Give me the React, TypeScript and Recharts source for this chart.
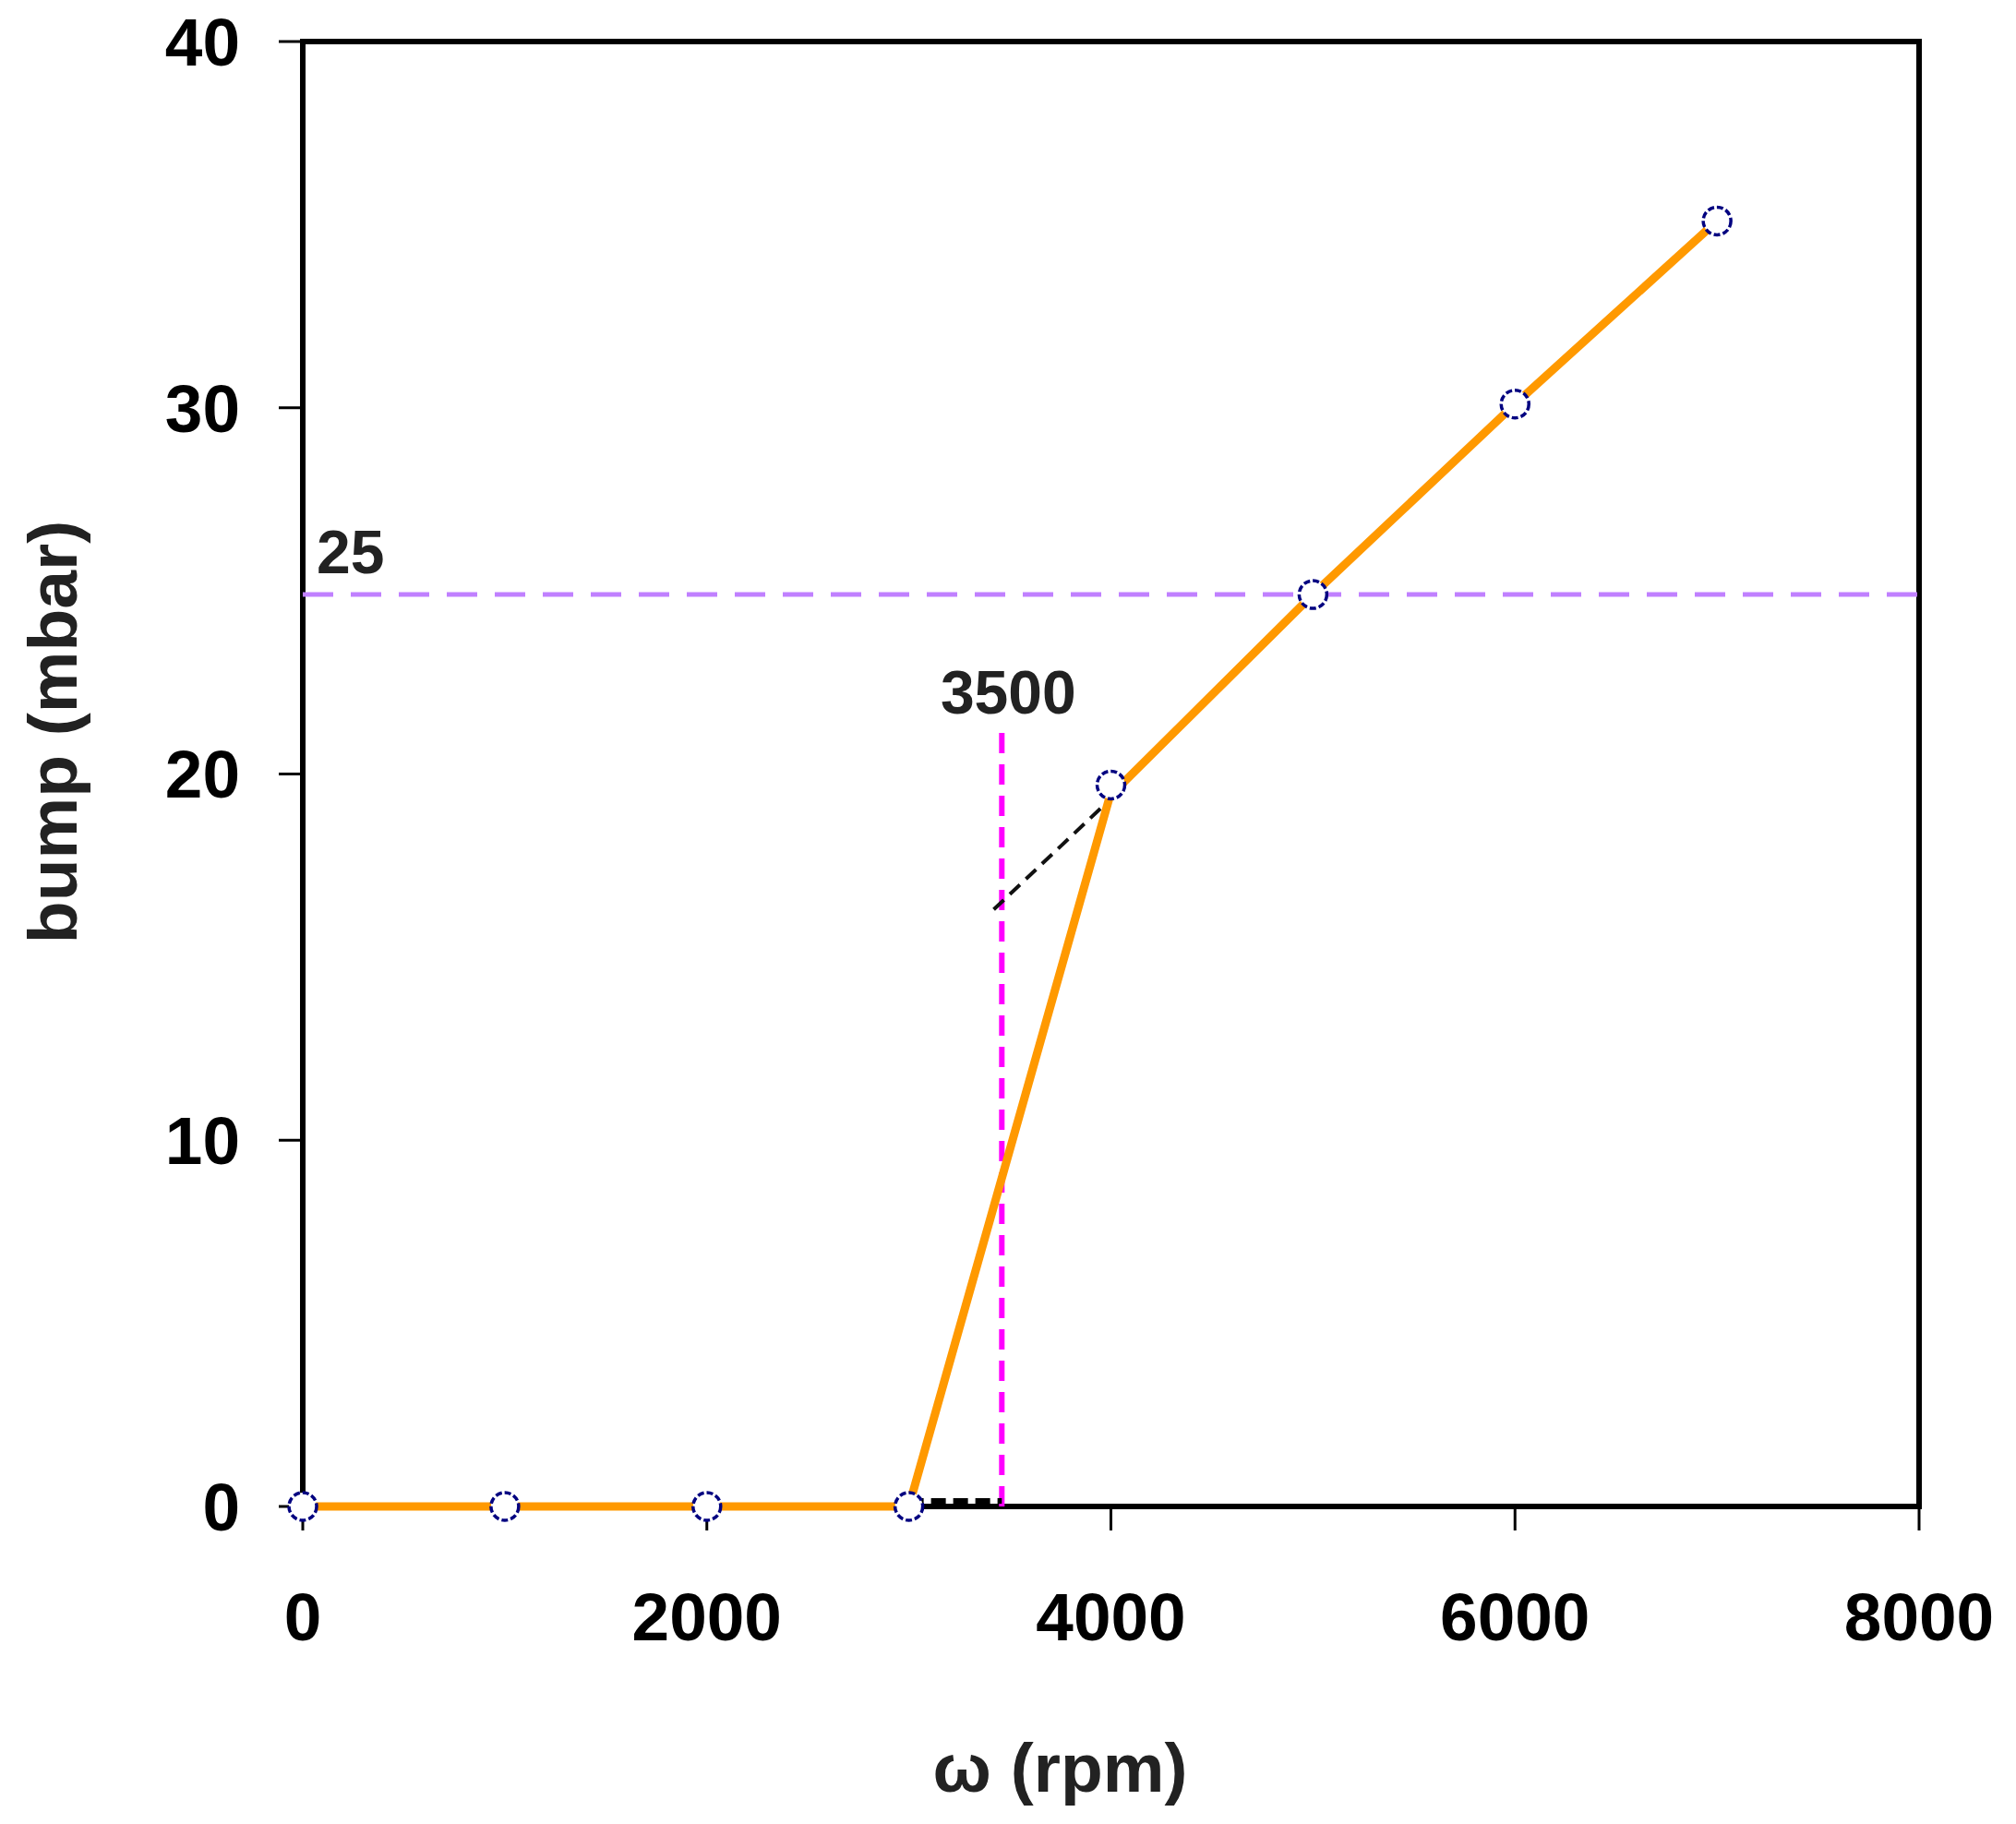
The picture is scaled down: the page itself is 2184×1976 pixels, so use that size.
import React from "react";
import {
  ComposedChart, Line, XAxis, YAxis, LabelList, ReferenceArea,
} from "recharts";

// measured points
const rpm = [0, 1000, 2000, 3000, 4000, 5000, 6000, 7000];
const bump = [0, 0, 0, 0, 19.7, 24.9, 30.1, 35.1];

// orange model curve
const fitRpm = [0, 3000, 3995, 5000, 6000, 7000];
const fitBump = [0, 0, 19.4, 24.9, 30.1, 35.1];

// black dashed construction lines
const tangentRpm = [3420, 3995];
const tangentBump = [16.3, 19.3];
const baseRpm = [3000, 3460];
const baseBump = [0.15, 0.15];

// magenta marker line and lavender threshold line
const markRpm = [3460, 3460];
const markBump = [0, 21.3];
const thrRpm = [0, 8000];
const thrBump = [24.9, 24.9];

const xTicks = [0, 2000, 4000, 6000, 8000];
const yTicks = [0, 10, 20, 30, 40];
const markText = "3500";
const thrText = "25";

const pts = (xs: number[], ys: number[]) => xs.map((x, i) => ({ x, y: ys[i] }));

const FONT = "'Liberation Sans', Arial, sans-serif";
const tickStyle = { fill: "#000", fontSize: 73, fontWeight: 700, fontFamily: FONT };

export default function App() {
  return (
    <div style={{ position: "absolute", left: 0, top: 0, background: "#fff" }}>
      <ComposedChart
        width={2184}
        height={1976}
        margin={{ top: 45, right: 105, bottom: 144, left: 128 }}
      >
        <XAxis
          type="number"
          dataKey="x"
          domain={[0, 8000]}
          ticks={xTicks}
          height={200}
          tickSize={26}
          tickMargin={67}
          tick={tickStyle}
          axisLine={{ stroke: "#000", strokeWidth: 6 }}
          tickLine={{ stroke: "#000", strokeWidth: 3 }}
          label={(p: any) => {
            const vb = p.viewBox;
            return (
              <text x={vb.x + vb.width / 2 - 55} y={vb.y + 309} textAnchor="middle"
                fill="#222" fontSize={75} fontWeight={700} fontFamily={FONT}>
                ω (rpm)
              </text>
            );
          }}
        />
        <YAxis
          type="number"
          domain={[0, 40]}
          ticks={yTicks}
          width={200}
          tickSize={26}
          tickMargin={42}
          tick={tickStyle}
          axisLine={{ stroke: "#000", strokeWidth: 6 }}
          tickLine={{ stroke: "#000", strokeWidth: 3 }}
          label={(p: any) => {
            const vb = p.viewBox;
            const cx = vb.x - 45;
            const cy = 793;
            return (
              <text x={cx} y={cy} transform={`rotate(-90, ${cx}, ${cy})`} textAnchor="middle"
                fill="#222" fontSize={75} fontWeight={700} fontFamily={FONT}>
                bump (mbar)
              </text>
            );
          }}
        />

        <ReferenceArea x1={0} x2={8000} y1={0} y2={40} fill="none" fillOpacity={0}
          stroke="#000" strokeWidth={6} zIndex={-10} />

        <Line data={pts(thrRpm, thrBump)} dataKey="y" stroke="#C080FF" strokeWidth={5}
          strokeDasharray="33 19" dot={false} isAnimationActive={false} zIndex={505}>
          <LabelList dataKey="y" content={(p: any) =>
            p.index === 0 ? (
              <text x={p.x + 15} y={p.y - 23} fill="#222" fontSize={66} fontWeight={700}
                fontFamily={FONT}>{thrText}</text>
            ) : null
          } />
        </Line>
        <Line data={pts(markRpm, markBump)} dataKey="y" stroke="#FF00FF" strokeWidth={6}
          strokeDasharray="22 12" dot={false} isAnimationActive={false} zIndex={510}>
          <LabelList dataKey="y" content={(p: any) =>
            p.index === 1 ? (
              <text x={p.x + 7} y={p.y - 14} textAnchor="middle" fill="#222" fontSize={66}
                fontWeight={700} fontFamily={FONT}>{markText}</text>
            ) : null
          } />
        </Line>
        <Line data={pts(baseRpm, baseBump)} dataKey="y" stroke="#000" strokeWidth={6}
          strokeDasharray="16 8" dot={false} isAnimationActive={false} zIndex={515} />
        <Line data={pts(tangentRpm, tangentBump)} dataKey="y" stroke="#111" strokeWidth={4}
          strokeDasharray="15 9" dot={false} isAnimationActive={false} zIndex={520} />
        <Line data={pts(fitRpm, fitBump)} dataKey="y" stroke="#FF9900" strokeWidth={9}
          dot={false} isAnimationActive={false} zIndex={525} />
        <Line data={pts(rpm, bump)} dataKey="y" stroke="none"
          dot={{ r: 15, fill: "#fff", stroke: "#000080", strokeWidth: 3.5, strokeDasharray: "7 3", clipDot: false }}
          isAnimationActive={false} zIndex={900} />
      </ComposedChart>
    </div>
  );
}
